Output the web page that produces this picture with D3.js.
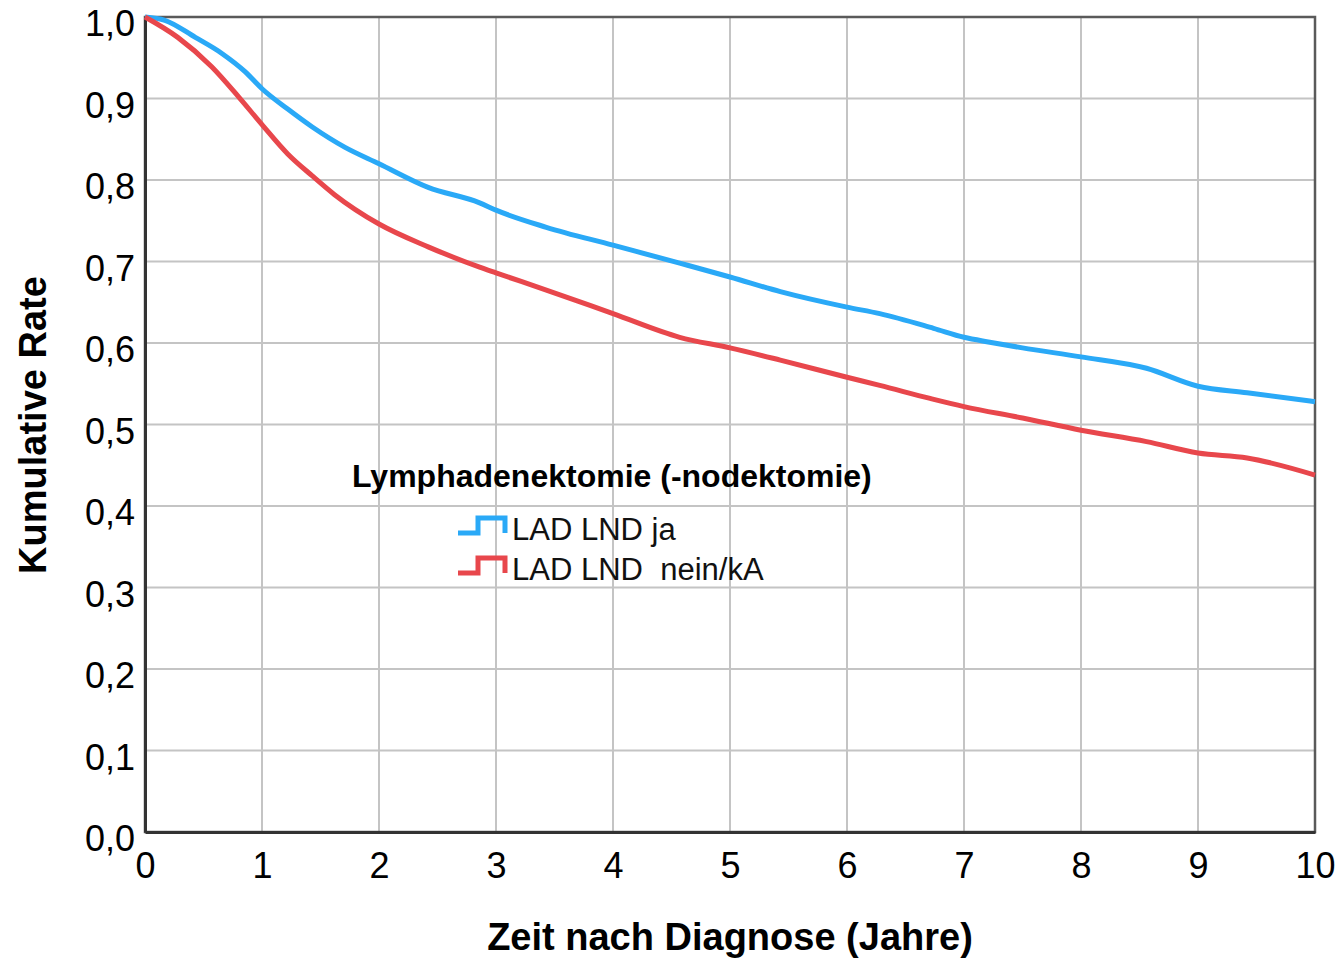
<!DOCTYPE html>
<html lang="de">
  <head>
    <meta charset="UTF-8" />
    <title>Kumulative Rate</title>
    <script src="https://cdn.jsdelivr.net/npm/d3@7"></script>
    <style>
      body { margin: 0; background: #fff; }
      svg { display: block; font-family: "Liberation Sans", Arial, sans-serif; }
    </style>
  </head>
  <body>
    <svg width="1337" height="958"></svg>
  </body>

  <script>
    // Zeit (Jahre) und kumulative Rate
    var blueTimes = [0, 0.17, 0.43, 0.66, 0.855, 1, 1.22, 1.43, 1.71, 2, 2.42, 2.86, 3, 3.43, 4, 4.57, 5, 5.43, 6, 6.28, 6.74, 7, 7.22, 7.5, 8, 8.56, 9, 9.42, 10];
    var blueRates = [1, 0.996, 0.975, 0.955, 0.933, 0.912, 0.887, 0.865, 0.84, 0.82, 0.791, 0.772, 0.763, 0.742, 0.72, 0.698, 0.681, 0.663, 0.644, 0.636, 0.618, 0.607, 0.601, 0.594, 0.583, 0.569, 0.547, 0.539, 0.528];

    var redTimes = [0, 0.28, 0.57, 0.8, 1, 1.22, 1.43, 1.62, 2, 2.42, 2.86, 3, 3.43, 4, 4.57, 5, 5.43, 6, 6.28, 6.71, 7, 7.5, 8, 8.56, 9, 9.42, 10];
    var redRates = [1, 0.975, 0.939, 0.902, 0.868, 0.832, 0.805, 0.782, 0.746, 0.718, 0.693, 0.686, 0.665, 0.636, 0.607, 0.594, 0.579, 0.558, 0.548, 0.532, 0.522, 0.508, 0.493, 0.479, 0.465, 0.459, 0.438];

    var seriesNames = ['LAD LND ja', 'LAD LND  nein/kA'];
    var seriesColors = ['#2aa9f7', '#e8474c'];
    var xTicks = d3.range(0, 11);
    var yTicks = d3.range(0, 11).map(function (i) { return i / 10; });

    var svg = d3.select('svg');
    var plotLeft = 145, plotRight = 1315, plotTop = 17, plotBottom = 832;

    var x = d3.scaleLinear().domain([0, 10]).range([plotLeft, plotRight]);
    var y = d3.scaleLinear().domain([0, 1]).range([plotBottom, plotTop]);

    // Gitternetz
    var grid = svg.append('g').attr('stroke', '#c4c4c4').attr('stroke-width', 2);
    grid.selectAll('.vx').data(xTicks).enter().append('line')
      .attr('x1', function (d) { return x(d); })
      .attr('x2', function (d) { return x(d); })
      .attr('y1', plotTop).attr('y2', plotBottom);
    grid.selectAll('.hy').data(yTicks).enter().append('line')
      .attr('y1', function (d) { return y(d); })
      .attr('y2', function (d) { return y(d); })
      .attr('x1', plotLeft).attr('x2', plotRight);

    // Rahmen
    svg.append('rect')
      .attr('x', plotLeft).attr('y', plotTop)
      .attr('width', plotRight - plotLeft).attr('height', plotBottom - plotTop)
      .attr('fill', 'none').attr('stroke', '#5a5a5a').attr('stroke-width', 2.5);

    // Achsen
    var axisX = d3.axisBottom(x).tickValues(xTicks).tickSize(0).tickPadding(20)
      .tickFormat(d3.format('d'));
    var gx = svg.append('g').attr('transform', 'translate(0,' + plotBottom + ')').call(axisX);
    gx.select('.domain').attr('stroke', '#333').attr('stroke-width', 3);
    gx.selectAll('text').attr('font-size', 36).attr('fill', '#000')
      .attr('font-family', '"Liberation Sans", Arial, sans-serif');

    var axisY = d3.axisLeft(y).tickValues(yTicks).tickSize(0).tickPadding(10)
      .tickFormat(function (d) { return d.toFixed(1).replace('.', ','); });
    var gy = svg.append('g').attr('transform', 'translate(' + plotLeft + ',0)').call(axisY);
    gy.select('.domain').attr('stroke', '#333').attr('stroke-width', 3);
    gy.selectAll('text').attr('font-size', 36).attr('fill', '#000').attr('dy', '0.52em')
      .attr('font-family', '"Liberation Sans", Arial, sans-serif');

    // Achsentitel
    svg.append('text')
      .attr('x', (plotLeft + plotRight) / 2).attr('y', 950)
      .attr('text-anchor', 'middle').attr('font-size', 38).attr('font-weight', 'bold')
      .text('Zeit nach Diagnose (Jahre)');
    svg.append('text')
      .attr('transform', 'translate(46,425) rotate(-90)')
      .attr('text-anchor', 'middle').attr('font-size', 38).attr('font-weight', 'bold')
      .text('Kumulative Rate');

    // Kurven
    var line = d3.line()
      .x(function (d) { return x(d[0]); })
      .y(function (d) { return y(d[1]); })
      .curve(d3.curveMonotoneX);
    var series = [d3.zip(blueTimes, blueRates), d3.zip(redTimes, redRates)];
    svg.selectAll('.curve').data(series).enter().append('path')
      .attr('class', 'curve')
      .attr('d', line)
      .attr('fill', 'none')
      .attr('stroke', function (d, i) { return seriesColors[i]; })
      .attr('stroke-width', 5)
      .attr('stroke-linejoin', 'round');

    // Legende
    var lg = svg.append('g').attr('transform', 'translate(352,487)');
    lg.append('text').attr('font-size', 32).attr('font-weight', 'bold')
      .text('Lymphadenektomie (-nodektomie)');
    var items = lg.selectAll('.item').data(seriesNames).enter().append('g')
      .attr('transform', function (d, i) { return 'translate(106,' + (46 + i * 40) + ')'; });
    items.append('path')
      .attr('d', 'M0,0H20V-15H47V0')
      .attr('fill', 'none')
      .attr('stroke', function (d, i) { return seriesColors[i]; })
      .attr('stroke-width', 5);
    items.append('text')
      .attr('x', 54).attr('y', 7)
      .attr('font-size', 31)
      .attr('fill', '#111')
      .style('white-space', 'pre')
      .text(function (d) { return d; });
  </script>
</html>
